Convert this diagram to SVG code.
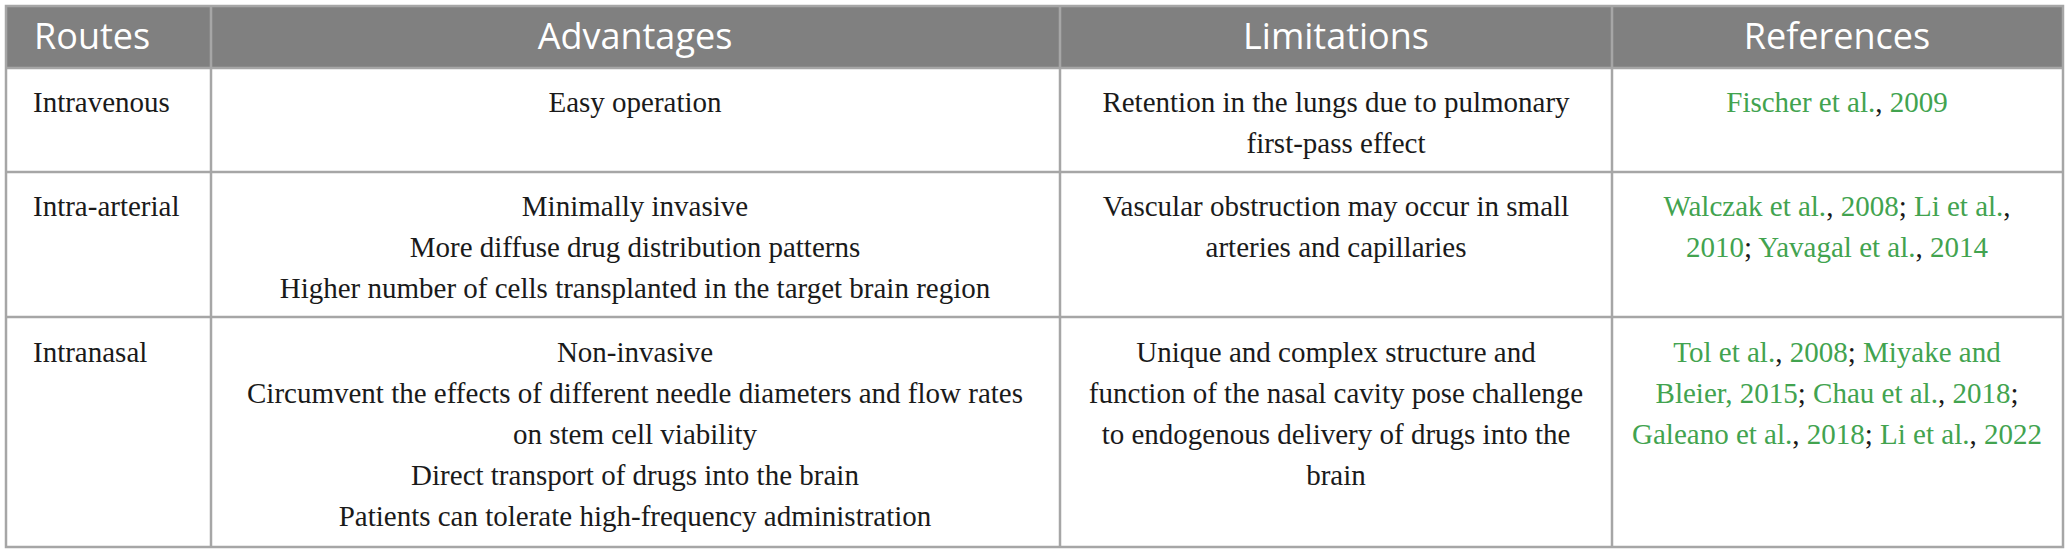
<svg xmlns="http://www.w3.org/2000/svg" width="2069" height="555" viewBox="0 0 2069 555">
<style>
.hd{font-family:"Open Sans","Liberation Sans",sans-serif;font-size:36px;fill:#ffffff;text-anchor:middle}
.tx{font-family:"Liberation Serif","DejaVu Serif",serif;font-size:29px;fill:#1a1a1a}
.c{text-anchor:middle}
.g{fill:#42a34f}
.ln{stroke:#a6a6a6;stroke-width:2.5;fill:none}
</style>
<rect x="0" y="0" width="2069" height="555" fill="#ffffff"/>
<g id="header">
<rect x="6" y="6" width="2057" height="62" fill="#808080"/>
<text class="hd" x="34" y="49" style="text-anchor:start">Routes</text>
<text class="hd" x="635" y="49">Advantages</text>
<text class="hd" x="1336" y="49">Limitations</text>
<text class="hd" x="1837" y="49">References</text>
</g>
<g id="grid">
<rect class="ln" x="6" y="6" width="2057" height="541" stroke-width="3"/>
<line class="ln" x1="211" y1="6" x2="211" y2="547"/>
<line class="ln" x1="1060" y1="6" x2="1060" y2="547"/>
<line class="ln" x1="1612" y1="6" x2="1612" y2="547"/>
<line class="ln" x1="6" y1="68" x2="2063" y2="68"/>
<line class="ln" x1="6" y1="172" x2="2063" y2="172"/>
<line class="ln" x1="6" y1="317" x2="2063" y2="317"/>
</g>
<g id="row-intravenous">
<text class="tx" x="33" y="112">Intravenous</text>
<text class="tx c" x="635" y="112">Easy operation</text>
<text class="tx c" x="1336" y="112">Retention in the lungs due to pulmonary</text>
<text class="tx c" x="1336" y="153">first-pass effect</text>
<text class="tx c" x="1837" y="112"><tspan class="g">Fischer et al.</tspan>, <tspan class="g">2009</tspan></text>
</g>
<g id="row-intra-arterial">
<text class="tx" x="33" y="216">Intra-arterial</text>
<text class="tx c" x="635" y="216">Minimally invasive</text>
<text class="tx c" x="635" y="257">More diffuse drug distribution patterns</text>
<text class="tx c" x="635" y="298">Higher number of cells transplanted in the target brain region</text>
<text class="tx c" x="1336" y="216">Vascular obstruction may occur in small</text>
<text class="tx c" x="1336" y="257">arteries and capillaries</text>
<text class="tx c" x="1837" y="216"><tspan class="g">Walczak et al.</tspan>, <tspan class="g">2008</tspan>; <tspan class="g">Li et al.</tspan>,</text>
<text class="tx c" x="1837" y="257"><tspan class="g">2010</tspan>; <tspan class="g">Yavagal et al.</tspan>, <tspan class="g">2014</tspan></text>
</g>
<g id="row-intranasal">
<text class="tx" x="33" y="362">Intranasal</text>
<text class="tx c" x="635" y="362">Non-invasive</text>
<text class="tx c" x="635" y="403">Circumvent the effects of different needle diameters and flow rates</text>
<text class="tx c" x="635" y="444">on stem cell viability</text>
<text class="tx c" x="635" y="485">Direct transport of drugs into the brain</text>
<text class="tx c" x="635" y="526">Patients can tolerate high-frequency administration</text>
<text class="tx c" x="1336" y="362">Unique and complex structure and</text>
<text class="tx c" x="1336" y="403">function of the nasal cavity pose challenge</text>
<text class="tx c" x="1336" y="444">to endogenous delivery of drugs into the</text>
<text class="tx c" x="1336" y="485">brain</text>
<text class="tx c" x="1837" y="362"><tspan class="g">Tol et al.</tspan>, <tspan class="g">2008</tspan>; <tspan class="g">Miyake and</tspan></text>
<text class="tx c" x="1837" y="403"><tspan class="g">Bleier, 2015</tspan>; <tspan class="g">Chau et al.</tspan>, <tspan class="g">2018</tspan>;</text>
<text class="tx c" x="1837" y="444"><tspan class="g">Galeano et al.</tspan>, <tspan class="g">2018</tspan>; <tspan class="g">Li et al.</tspan>, <tspan class="g">2022</tspan></text>
</g>
</svg>
